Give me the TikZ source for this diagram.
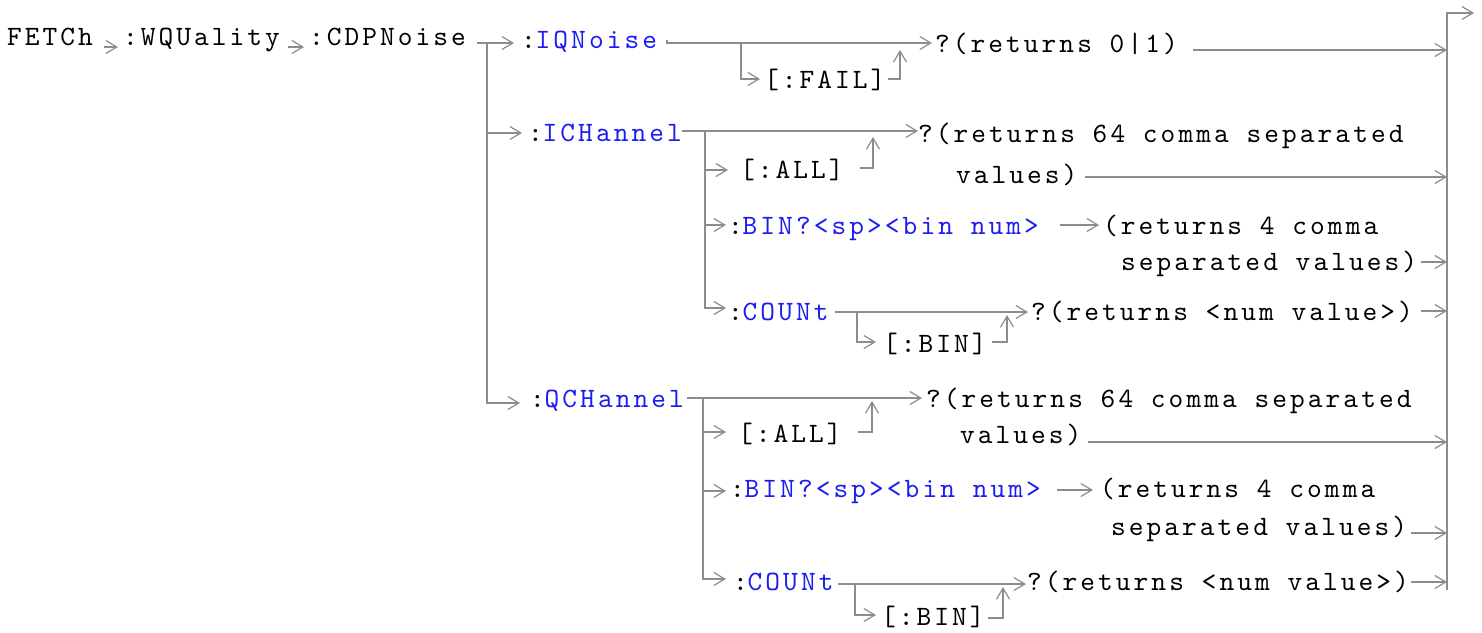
\documentclass[tikz,border=0pt]{standalone}
\usepackage{fontspec}
\usetikzlibrary{arrows.meta}
\definecolor{lgray}{RGB}{140,140,140}
\definecolor{kblue}{RGB}{28,28,240}
\newfontfamily\cmono{lmmono10-regular.otf}[LetterSpace=11]
\newcommand{\tfont}{\fontsize{28}{32}\cmono}
\tikzset{
  txt/.style={anchor=base west,inner sep=0pt,outer sep=0pt,font=\tfont,text=black},
  kw/.style={txt,text=kblue},
  conn/.style={draw=lgray,line width=1.8pt,-{Straight Barb[length=11pt,width=13pt,line width=1.2pt]}},
  plain/.style={draw=lgray,line width=1.8pt},
}
\begin{document}
\begin{tikzpicture}[x=1pt,y=-1pt]
\useasboundingbox (0,0) rectangle (1482,632);
% ---------- row 1
\node[txt] (fetch) at (7,45) {FETCh};
\node[txt] (wq) at (123,45) {:WQUality};
\node[txt] (cdp) at (309,45) {:CDPNoise};
\node[txt] (colIQ) at (521,48) {:};
\node[kw] (iqn) at (colIQ.base east) {IQNoise};
\node[txt] (fail) at (764,88) {[:FAIL]};
\node[txt] (r01) at (935,52) {?(returns 0|1)};
\coordinate (a1s) at (104,47); \coordinate (a1e) at (118,47);
\coordinate (a2s) at (288,47); \coordinate (a2e) at (304,47);
\draw[conn] (a1s) -- (a1e);
\draw[conn] (a2s) -- (a2e);
\coordinate (t0) at (477,43); \coordinate (t0e) at (514,43);
\draw[conn] (t0) -- (t0e);
\coordinate (iq0) at (667,40); \coordinate (iq1) at (667,43); \coordinate (iqe) at (932,43);
\draw[conn] (iq0) -- (iq1) -- (iqe);
\coordinate (f0) at (741,43); \coordinate (f1) at (741,79); \coordinate (f2) at (760,79);
\draw[conn] (f0) -- (f1) -- (f2);
\coordinate (f3) at (888,79); \coordinate (f4) at (900,79); \coordinate (f5) at (900,50);
\draw[conn] (f3) -- (f4) -- (f5);
\coordinate (o1s) at (1193,50); \coordinate (o1e) at (1447,50);
\draw[conn] (o1s) -- (o1e);
% main vertical
\coordinate (v0) at (487,43); \coordinate (vq) at (487,403); \coordinate (vqe) at (520,403);
\coordinate (vi) at (487,133); \coordinate (vie) at (522,133);
\draw[conn] (v0) -- (vq) -- (vqe);
\draw[conn] (vi) -- (vie);
% ---------- ICHannel
\node[txt] (colIC) at (528,141) {:};
\node[kw] (ich) at (colIC.base east) {ICHannel};
\node[txt] (r64a) at (918,142) {?(returns 64 comma separated};
\node[txt] (r64b) at (956,183) {values)};
\node[txt] (alla) at (740,178) {[:ALL]};
\node[txt] (colBa) at (728,234) {:};
\node[kw] (bina) at (colBa.base east) {BIN?<sp><bin num>};
\node[txt] (r4a) at (1103,234) {(returns 4 comma};
\node[txt] (r4b) at (1121,270) {separated values)};
\node[txt] (colCa) at (728,320) {:};
\node[kw] (cnta) at (colCa.base east) {COUNt};
\node[txt] (bina2) at (883,352) {[:BIN]};
\node[txt] (rna) at (1031,320) {?(returns <num value>)};
\coordinate (i0) at (682,131); \coordinate (ie) at (918,131);
\draw[conn] (i0) -- (ie);
\coordinate (iv0) at (705,131); \coordinate (iv1) at (705,308); \coordinate (iv1e) at (726,308);
\draw[conn] (iv0) -- (iv1) -- (iv1e);
\coordinate (ia) at (705,170); \coordinate (iae) at (728,170);
\draw[conn] (ia) -- (iae);
\coordinate (ia1) at (860,168); \coordinate (ia2) at (873,168); \coordinate (ia3) at (873,137);
\draw[conn] (ia1) -- (ia2) -- (ia3);
\coordinate (ov1s) at (1085,177); \coordinate (ov1e) at (1447,177);
\draw[conn] (ov1s) -- (ov1e);
\coordinate (ib) at (705,225); \coordinate (ibe) at (726,225);
\draw[conn] (ib) -- (ibe);
\coordinate (ib1) at (1060,225); \coordinate (ib2) at (1099,225);
\draw[conn] (ib1) -- (ib2);
\coordinate (ob1s) at (1421,262); \coordinate (ob1e) at (1447,262);
\draw[conn] (ob1s) -- (ob1e);
\coordinate (ic0) at (835,312); \coordinate (ice) at (1028,312);
\draw[conn] (ic0) -- (ice);
\coordinate (ic1) at (857,312); \coordinate (ic2) at (857,342); \coordinate (ic3) at (876,342);
\draw[conn] (ic1) -- (ic2) -- (ic3);
\coordinate (ic4) at (992,342); \coordinate (ic5) at (1007,342); \coordinate (ic6) at (1007,315);
\draw[conn] (ic4) -- (ic5) -- (ic6);
\coordinate (oc1s) at (1421,311); \coordinate (oc1e) at (1447,311);
\draw[conn] (oc1s) -- (oc1e);
% ---------- QCHannel
\node[txt] (colQC) at (530,407) {:};
\node[kw] (qch) at (colQC.base east) {QCHannel};
\node[txt] (r64c) at (926,407) {?(returns 64 comma separated};
\node[txt] (r64d) at (960,443) {values)};
\node[txt] (allb) at (738,442) {[:ALL]};
\node[txt] (colBb) at (730,497) {:};
\node[kw] (binb) at (colBb.base east) {BIN?<sp><bin num>};
\node[txt] (r4c) at (1100,497) {(returns 4 comma};
\node[txt] (r4d) at (1111,535) {separated values)};
\node[txt] (colCb) at (733,590) {:};
\node[kw] (cntb) at (colCb.base east) {COUNt};
\node[txt] (binb2) at (881,625) {[:BIN]};
\node[txt] (rnb) at (1027,590) {?(returns <num value>)};
\coordinate (q0) at (687,398); \coordinate (qe) at (922,398);
\draw[conn] (q0) -- (qe);
\coordinate (qv0) at (703,398); \coordinate (qv1) at (703,579); \coordinate (qv1e) at (726,579);
\draw[conn] (qv0) -- (qv1) -- (qv1e);
\coordinate (qa) at (703,432); \coordinate (qae) at (726,432);
\draw[conn] (qa) -- (qae);
\coordinate (qa1) at (858,432); \coordinate (qa2) at (872,432); \coordinate (qa3) at (872,401);
\draw[conn] (qa1) -- (qa2) -- (qa3);
\coordinate (ov2s) at (1088,442); \coordinate (ov2e) at (1447,442);
\draw[conn] (ov2s) -- (ov2e);
\coordinate (qb) at (703,491); \coordinate (qbe) at (726,491);
\draw[conn] (qb) -- (qbe);
\coordinate (qb1) at (1057,490); \coordinate (qb2) at (1093,490);
\draw[conn] (qb1) -- (qb2);
\coordinate (ob2s) at (1411,533); \coordinate (ob2e) at (1447,533);
\draw[conn] (ob2s) -- (ob2e);
\coordinate (qc0) at (838,584); \coordinate (qce) at (1026,584);
\draw[conn] (qc0) -- (qce);
\coordinate (qc1) at (855,584); \coordinate (qc2) at (855,615); \coordinate (qc3) at (876,615);
\draw[conn] (qc1) -- (qc2) -- (qc3);
\coordinate (qc4) at (988,618); \coordinate (qc5) at (1003,618); \coordinate (qc6) at (1003,587);
\draw[conn] (qc4) -- (qc5) -- (qc6);
\coordinate (oc2s) at (1411,582); \coordinate (oc2e) at (1447,582);
\draw[conn] (oc2s) -- (oc2e);
% ---------- right bar
\coordinate (rb0) at (1447,590); \coordinate (rb1) at (1447,13); \coordinate (rb2) at (1474,13);
\draw[conn] (rb0) -- (rb1) -- (rb2);
\end{tikzpicture}
\end{document}
